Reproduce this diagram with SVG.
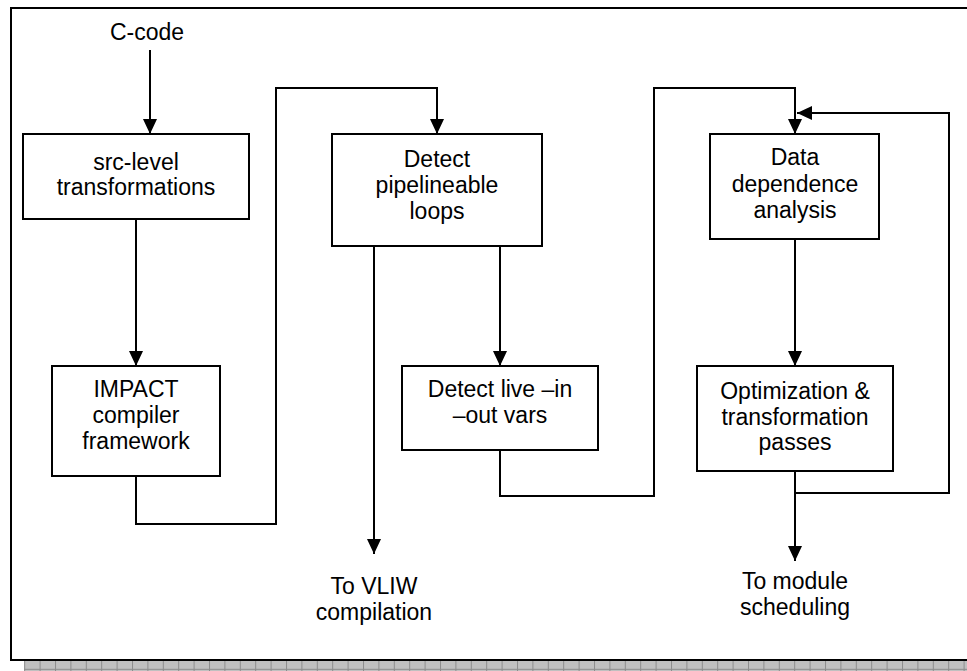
<svg xmlns="http://www.w3.org/2000/svg" width="967" height="671" viewBox="0 0 967 671">
  <style>
    .box { fill: #ffffff; stroke: #000000; stroke-width: 2; }
    .wire { fill: none; stroke: #000000; stroke-width: 2; }
    .lbl { font-family: "Liberation Sans", Arial, sans-serif; font-size: 23px; fill: #000000; text-anchor: middle; }
  </style>
  <defs>
    <marker id="arrow" markerUnits="userSpaceOnUse" markerWidth="15" markerHeight="14" refX="15" refY="7" orient="auto">
      <path d="M0,0 L15,7 L0,14 Z" fill="#000000"/>
    </marker>
    <pattern id="shadowGrid" patternUnits="userSpaceOnUse" x="24.2" y="661" width="15.4" height="20">
      <rect x="0" y="0" width="15.4" height="20" fill="#c0c0c0"/>
      <line x1="0.5" y1="0" x2="0.5" y2="20" stroke="#8c8c8c" stroke-width="1"/>
      <line x1="0" y1="8.3" x2="15.4" y2="8.3" stroke="#8c8c8c" stroke-width="1"/>
    </pattern>
  </defs>

  <rect x="0" y="0" width="967" height="671" fill="#ffffff"/>

  <!-- page frame with its drop shadow -->
  <g id="frame">
    <rect x="24" y="661" width="950" height="10" fill="url(#shadowGrid)"/>
    <rect x="11" y="8" width="970" height="652" fill="none" stroke="#000000" stroke-width="2"/>
  </g>

  <!-- connectors -->
  <g id="connectors">
    <path class="wire" d="M150,50 V134" marker-end="url(#arrow)"/>
    <path class="wire" d="M136,219 V366" marker-end="url(#arrow)"/>
    <path class="wire" d="M136,476 V524 H276 V88 H437 V134" marker-end="url(#arrow)"/>
    <path class="wire" d="M374,246 V554" marker-end="url(#arrow)"/>
    <path class="wire" d="M500,246 V366" marker-end="url(#arrow)"/>
    <path class="wire" d="M500,450 V496 H654 V88 H795 V134" marker-end="url(#arrow)"/>
    <path class="wire" d="M795,239 V366" marker-end="url(#arrow)"/>
    <path class="wire" d="M795,471 V561" marker-end="url(#arrow)"/>
    <path class="wire" d="M795,493 H949 V113 H797" marker-end="url(#arrow)"/>
  </g>

  <g id="c-code">
    <text class="lbl" x="147" y="40">C-code</text>
  </g>

  <g id="src-level">
    <rect class="box" x="23" y="134" width="226" height="85"/>
    <text class="lbl" x="136" y="170">src-level</text>
    <text class="lbl" x="136" y="195">transformations</text>
  </g>

  <g id="impact">
    <rect class="box" x="52" y="366" width="168" height="110"/>
    <text class="lbl" x="136" y="397">IMPACT</text>
    <text class="lbl" x="136" y="423">compiler</text>
    <text class="lbl" x="136" y="449">framework</text>
  </g>

  <g id="pipelineable">
    <rect class="box" x="332" y="134" width="210" height="112"/>
    <text class="lbl" x="437" y="167">Detect</text>
    <text class="lbl" x="437" y="193">pipelineable</text>
    <text class="lbl" x="437" y="219">loops</text>
  </g>

  <g id="live-vars">
    <rect class="box" x="402" y="366" width="196" height="84"/>
    <text class="lbl" x="500" y="397">Detect live –in</text>
    <text class="lbl" x="500" y="423">–out vars</text>
  </g>

  <g id="vliw">
    <text class="lbl" x="374" y="594">To VLIW</text>
    <text class="lbl" x="374" y="620">compilation</text>
  </g>

  <g id="data-dependence">
    <rect class="box" x="710" y="134" width="169" height="105"/>
    <text class="lbl" x="795" y="165">Data</text>
    <text class="lbl" x="795" y="192">dependence</text>
    <text class="lbl" x="795" y="218">analysis</text>
  </g>

  <g id="optimization">
    <rect class="box" x="697" y="366" width="196" height="105"/>
    <text class="lbl" x="795" y="399">Optimization &amp;</text>
    <text class="lbl" x="795" y="425">transformation</text>
    <text class="lbl" x="795" y="450">passes</text>
  </g>

  <g id="module-scheduling">
    <text class="lbl" x="795" y="589">To module</text>
    <text class="lbl" x="795" y="615">scheduling</text>
  </g>
</svg>
